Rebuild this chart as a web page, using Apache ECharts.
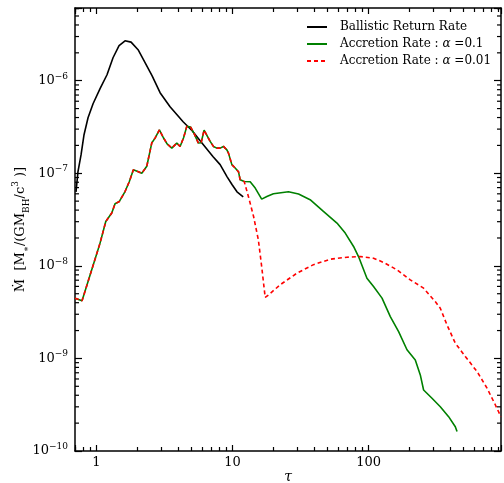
<!DOCTYPE html>
<html>
<head>
<meta charset="utf-8">
<script src="https://cdn.jsdelivr.net/npm/echarts@6/dist/echarts.min.js"></script>
<style>
  html, body { margin: 0; padding: 0; background: #fff; }
  #chart { width: 504px; height: 483px; }
  #err { position: absolute; left: 90px; top: 330px; width: 400px; font: 10px monospace; color: #c00; white-space: pre-wrap; }
</style>
</head>
<body>
<div id="chart"></div>
<div id="err"></div>
<script>
const errs = [];
const showErr = m => { errs.push(String(m)); document.getElementById('err').textContent = errs.join('\n'); };
window.addEventListener('error', e => showErr('win: ' + e.message));
const origErr = console.error;
console.error = function () { showErr('console: ' + Array.from(arguments).join(' ')); origErr.apply(console, arguments); };
const origWarn = console.warn;
console.warn = function () { showErr('warn: ' + Array.from(arguments).join(' ')); origWarn.apply(console, arguments); };

// Tasa de retorno balística
const ballisticTau = [0.709, 0.733, 0.772, 0.812, 0.869, 0.946, 1.065, 1.198, 1.326, 1.469, 1.625, 1.80, 2.026, 2.28, 2.57, 2.94, 3.48, 4.34, 5.06, 5.79, 7.21, 8.12, 9.14, 9.95, 10.8, 12.0];
const ballisticRate = [6.3e-8, 1.04e-7, 1.58e-7, 2.61e-7, 3.98e-7, 5.64e-7, 8.2e-7, 1.16e-6, 1.77e-6, 2.39e-6, 2.70e-6, 2.61e-6, 2.16e-6, 1.57e-6, 1.13e-6, 7.42e-7, 5.24e-7, 3.6e-7, 2.88e-7, 2.24e-7, 1.51e-7, 1.24e-7, 9.16e-8, 7.52e-8, 6.31e-8, 5.57e-8];

// Tramo común a las dos tasas de acreción
const earlyTau = [0.697, 0.785, 0.925, 1.065, 1.173, 1.298, 1.372, 1.476, 1.625, 1.748, 1.871, 2.036, 2.157, 2.348, 2.553, 2.70, 2.906, 3.11, 3.31, 3.585, 3.90, 4.125, 4.375, 4.62, 4.93, 5.23, 5.62, 5.89, 6.19, 6.52, 6.86, 7.25, 7.68, 8.12, 8.59, 9.10, 9.35, 9.90, 10.47, 11.07, 11.4, 12.2];
const earlyRate = [4.48e-9, 4.19e-9, 9.06e-9, 1.76e-8, 3.01e-8, 3.72e-8, 4.68e-8, 4.96e-8, 6.35e-8, 8.15e-8, 1.09e-7, 1.04e-7, 1.00e-7, 1.19e-7, 2.12e-7, 2.40e-7, 2.95e-7, 2.42e-7, 2.08e-7, 1.87e-7, 2.12e-7, 1.95e-7, 2.42e-7, 3.21e-7, 3.16e-7, 2.68e-7, 2.12e-7, 2.14e-7, 2.92e-7, 2.54e-7, 2.21e-7, 1.95e-7, 1.87e-7, 1.87e-7, 1.95e-7, 1.79e-7, 1.65e-7, 1.24e-7, 1.14e-7, 1.04e-7, 8.5e-8, 8.15e-8];

// alpha = 0.1
const alpha1Tau = [13.5, 14.7, 16.4, 17.9, 20.0, 25.8, 30.6, 37.2, 46.6, 58.6, 67.4, 77.6, 84.4, 97.3, 108.8, 125.6, 144.5, 166.3, 191.6, 220.5, 240, 253.8, 292.5, 336.6, 387.5, 434, 446.8];
const alpha1Rate = [8.09e-8, 6.92e-8, 5.26e-8, 5.61e-8, 6.0e-8, 6.31e-8, 5.96e-8, 5.18e-8, 3.87e-8, 2.90e-8, 2.26e-8, 1.62e-8, 1.26e-8, 7.36e-9, 5.97e-9, 4.48e-9, 2.83e-9, 1.95e-9, 1.24e-9, 9.64e-10, 6.64e-10, 4.56e-10, 3.71e-10, 3.01e-10, 2.35e-10, 1.83e-10, 1.62e-10];

// alpha = 0.01
const alpha01Tau = [13.1, 14.3, 15.5, 16.4, 17.4, 18.4, 22.4, 29.8, 39.4, 52.3, 69.4, 86.9, 108.8, 128.8, 161.7, 202.6, 253.8, 309, 336.6, 377, 434, 514, 627, 742, 855, 938];
const alpha01Rate = [5.61e-8, 3.41e-8, 1.91e-8, 9.82e-9, 4.56e-9, 4.85e-9, 6.24e-9, 8.34e-9, 1.03e-8, 1.18e-8, 1.24e-8, 1.26e-8, 1.21e-8, 1.09e-8, 9.06e-9, 7.06e-9, 5.74e-9, 4.11e-9, 3.49e-9, 2.30e-9, 1.46e-9, 1.05e-9, 7.2e-10, 4.77e-10, 3.14e-10, 2.35e-10];

// Marcas del eje
const xTickLabels = [1, 10, 100];
const yMinorTicks = [
  2e-10, 3e-10, 4e-10, 5e-10, 6e-10, 7e-10, 8e-10, 9e-10,
  2e-9, 3e-9, 4e-9, 5e-9, 6e-9, 7e-9, 8e-9, 9e-9,
  2e-8, 3e-8, 4e-8, 5e-8, 6e-8, 7e-8, 8e-8, 9e-8,
  2e-7, 3e-7, 4e-7, 5e-7, 6e-7, 7e-7, 8e-7, 9e-7,
  2e-6, 3e-6, 4e-6, 5e-6, 6e-6
];

const seriesNames = ['Ballistic Return Rate', 'Accretion Rate: α=0.1', 'Accretion Rate: α=0.01'];

const zip = (a, b) => a.map((v, i) => [v, b[i]]);

const FONT = 'DejaVu Serif';
const X_MIN = 0.697, X_MAX = 940, Y_MIN = 1e-10, Y_MAX = 6.1e-6;

const supFmt = v => {
  const lg = Math.log10(v);
  const e = Math.round(lg);
  if (Math.abs(lg - e) > 1e-6) return '';
  return '{b|10}{sup|' + (e < 0 ? '\u2212' + (-e) : e) + '}';
};

const labelRich = {
  b: { fontFamily: FONT, fontSize: 13, color: '#000', lineHeight: 18 },
  sup: { fontFamily: FONT, fontSize: 9, color: '#000', verticalAlign: 'top', lineHeight: 10 }
};

const lineBlack = { color: '#000', width: 1.5 };
const tickBlack = { color: '#000', width: 1.2 };

const xAxes = [
  {
    type: 'log', position: 'bottom', min: X_MIN, max: X_MAX,
    name: 'τ', nameLocation: 'middle', nameGap: 19, nameMoveOverlap: false,
    nameTextStyle: { fontFamily: FONT, fontSize: 14, fontStyle: 'italic', color: '#000' },
    axisLine: { show: true, onZero: false, lineStyle: lineBlack },
    axisTick: { show: true, inside: true, length: 6, lineStyle: tickBlack },
    minorTick: { show: true, splitNumber: 9, length: 4, lineStyle: tickBlack },
    axisLabel: { customValues: xTickLabels, margin: 5, fontFamily: FONT, fontSize: 13, color: '#000' },
    splitLine: { show: false }
  },
  {
    type: 'log', position: 'top', min: X_MIN, max: X_MAX,
    axisLine: { show: true, onZero: false, lineStyle: lineBlack },
    axisTick: { show: true, inside: true, length: 6, lineStyle: tickBlack },
    minorTick: { show: true, splitNumber: 9, length: 4, lineStyle: tickBlack },
    axisLabel: { show: false },
    splitLine: { show: false }
  }
];

const yAxes = [
  {
    type: 'log', position: 'left', min: Y_MIN, max: Y_MAX,
    name: '{b|Ṁ  [M}{sub|∗}{b|/(GM}{sub|BH}{b|/c}{sup|3}{b| )]}',
    nameLocation: 'middle', nameRotate: 90, nameGap: 44, nameMoveOverlap: false,
    nameTextStyle: {
      rich: {
        b: { fontFamily: FONT, fontSize: 13, color: '#000', lineHeight: 20 },
        sub: { fontFamily: FONT, fontSize: 9, color: '#000', verticalAlign: 'bottom', lineHeight: 10 },
        sup: { fontFamily: FONT, fontSize: 9, color: '#000', verticalAlign: 'top', lineHeight: 10 }
      }
    },
    axisLine: { show: true, onZero: false, lineStyle: lineBlack },
    axisTick: { show: true, inside: true, length: 7, lineStyle: tickBlack },
    axisLabel: { margin: 7, formatter: supFmt, rich: labelRich },
    splitLine: { show: false }
  },
  {
    type: 'log', position: 'right', min: Y_MIN, max: Y_MAX,
    axisLine: { show: true, onZero: false, lineStyle: lineBlack },
    axisTick: { show: true, inside: true, length: 7, lineStyle: tickBlack },
    axisLabel: { show: false },
    splitLine: { show: false }
  }
];

const legendRich = {
  n: { fontFamily: FONT, fontSize: 12, color: '#000' },
  i: { fontFamily: FONT, fontSize: 12, fontStyle: 'italic', color: '#000' }
};

try {
  const chart = echarts.init(document.getElementById('chart'), null, { renderer: 'canvas' });
  chart.setOption({
    backgroundColor: '#fff',
    animation: false,
    grid: { left: 75, right: 3, top: 8, bottom: 32, outerBoundsMode: 'none' },
    legend: {
      orient: 'vertical',
      left: 301, top: 16,
      itemWidth: 20, itemHeight: 12, itemGap: 5,
      itemStyle: { opacity: 0 },
      data: seriesNames,
      formatter: name => {
        if (name === seriesNames[0]) return '{n|Ballistic Return Rate}';
        if (name === seriesNames[1]) return '{n|Accretion Rate : }{i|α}{n| =0.1}';
        return '{n|Accretion Rate : }{i|α}{n| =0.01}';
      },
      textStyle: { padding: [0, 0, 0, 8], rich: legendRich }
    },
    xAxis: xAxes,
    yAxis: yAxes,
    series: [
      {
        name: seriesNames[0], type: 'line', showSymbol: false, symbol: 'none',
        data: zip(ballisticTau, ballisticRate),
        lineStyle: { color: '#000', width: 1.6 }, itemStyle: { color: '#000' }
      },
      {
        name: seriesNames[1], type: 'line', showSymbol: false, symbol: 'none',
        data: zip(earlyTau.concat(alpha1Tau), earlyRate.concat(alpha1Rate)),
        lineStyle: { color: '#008000', width: 1.6 }, itemStyle: { color: '#008000' }
      },
      {
        name: seriesNames[2], type: 'line', showSymbol: false, symbol: 'none',
        data: zip(earlyTau.concat(alpha01Tau), earlyRate.concat(alpha01Rate)),
        lineStyle: { color: '#ff0000', width: 1.6, type: [4, 3] }, itemStyle: { color: '#ff0000' }
      },
      {
        name: 'yMinor', type: 'custom', silent: true, clip: false, z: 5,
        data: yMinorTicks.map(v => [X_MIN, v]),
        renderItem: (params, api) => {
          const v = api.value(1);
          const l = api.coord([X_MIN, v]);
          const r = api.coord([X_MAX, v]);
          return {
            type: 'group',
            children: [
              { type: 'line', shape: { x1: l[0], y1: l[1], x2: l[0] + 4, y2: l[1] }, style: { stroke: '#000', lineWidth: 1.2 } },
              { type: 'line', shape: { x1: r[0] - 4, y1: r[1], x2: r[0], y2: r[1] }, style: { stroke: '#000', lineWidth: 1.2 } }
            ]
          };
        }
      }
    ]
  });
} catch (e) {
  showErr('caught: ' + e.message + '\n' + (e.stack || '').split('\n').slice(0, 4).join('\n'));
}
</script>
</body>
</html>
